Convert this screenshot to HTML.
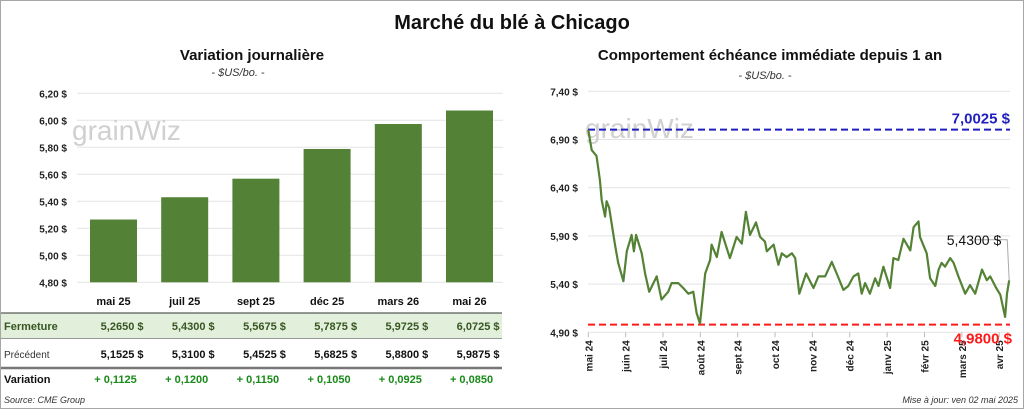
<!DOCTYPE html>
<html><head><meta charset="utf-8"><style>
body{margin:0;background:#fff;}
svg{display:block;font-family:"Liberation Sans",sans-serif;}
</style></head><body>
<svg id="c" width="1024" height="409" viewBox="0 0 1024 409" xmlns="http://www.w3.org/2000/svg">
<rect x="0.5" y="0.5" width="1023" height="408" fill="#fff" stroke="#a6a6a6"/>
<text x="512" y="29" text-anchor="middle" font-size="20" font-weight="bold" fill="#111">Marché du blé à Chicago</text>
<text x="252" y="60" text-anchor="middle" font-size="15" font-weight="bold" fill="#111">Variation journalière</text>
<text x="238" y="76" text-anchor="middle" font-size="11" font-style="italic" fill="#333">- $US/bo. -</text>
<text x="770" y="60" text-anchor="middle" font-size="15" font-weight="bold" fill="#111">Comportement échéance immédiate depuis 1 an</text>
<text x="765" y="79" text-anchor="middle" font-size="11" font-style="italic" fill="#333">- $US/bo. -</text>
<g id="left"></g>
<g id="right"></g>
<g id="table"></g>
<text x="4" y="403" font-size="9" font-style="italic" fill="#333">Source: CME Group</text>
<text x="1018" y="403" text-anchor="end" font-size="9" font-style="italic" fill="#333">Mise à jour: ven 02 mai 2025</text>
</svg>
<script>
const NS="http://www.w3.org/2000/svg";
const barCategories=["mai 25","juil 25","sept 25","déc 25","mars 26","mai 26"];
const barValues=[5.2650,5.4300,5.5675,5.7875,5.9725,6.0725];
const prevValues=[5.1525,5.3100,5.4525,5.6825,5.8800,5.9875];
const barTicks=[4.8,5.0,5.2,5.4,5.6,5.8,6.0,6.2];
const lineMonths=["mai 24","juin 24","juil 24","août 24","sept 24","oct 24","nov 24","déc 24","janv 25","févr 25","mars 25","avr 25"];
const lineT=[0,.09,.22,.31,.36,.45,.49,.56,.71,.80,.94,1.03,1.16,1.22,1.28,1.43,1.52,1.63,1.83,1.96,2.14,2.23,2.41,2.54,2.68,2.81,2.90,2.99,3.13,3.26,3.30,3.44,3.57,3.79,3.97,4.11,4.22,4.33,4.49,4.60,4.73,4.78,4.96,5.09,5.18,5.31,5.45,5.54,5.65,5.83,6.03,6.16,6.34,6.52,6.65,6.83,6.96,7.10,7.23,7.32,7.41,7.54,7.68,7.77,7.90,8.08,8.17,8.30,8.44,8.62,8.71,8.84,8.88,9.06,9.15,9.29,9.38,9.46,9.55,9.69,9.78,9.91,10.09,10.22,10.36,10.54,10.67,10.76,10.92,11.03,11.16,11.21,11.27];
const lineV=[7.00,6.79,6.73,6.48,6.27,6.10,6.26,6.19,5.82,5.62,5.43,5.74,5.91,5.74,5.91,5.72,5.51,5.32,5.48,5.24,5.32,5.41,5.41,5.36,5.30,5.32,5.10,4.99,5.51,5.65,5.81,5.68,5.94,5.67,5.89,5.82,6.15,5.91,6.04,5.89,5.84,5.74,5.81,5.60,5.72,5.68,5.72,5.67,5.30,5.51,5.36,5.48,5.48,5.63,5.51,5.34,5.38,5.48,5.51,5.30,5.41,5.30,5.46,5.38,5.58,5.36,5.67,5.65,5.87,5.75,5.99,6.05,5.89,5.72,5.46,5.38,5.55,5.62,5.58,5.67,5.62,5.48,5.30,5.39,5.30,5.55,5.44,5.48,5.36,5.29,5.06,5.30,5.44];
const lineTicks=[4.90,5.40,5.90,6.40,6.90,7.40];
const highVal=7.0025, lowVal=4.98, lastVal=5.43;

function el(tag,attrs,parent,txt){const e=document.createElementNS(NS,tag);for(const k in attrs)e.setAttribute(k,attrs[k]);if(txt!==undefined)e.textContent=txt;parent.appendChild(e);return e;}
const fmt=(v,d)=>v.toFixed(d).replace('.',',');

// left bar chart
const L=document.getElementById('left');
const ly=v=>282.3-(v-4.8)*135;
const lx=i=>113.5+i*71.2;
barTicks.forEach(t=>{
  const g=el('line',{x1:77,x2:503,y1:ly(t),y2:ly(t),stroke:'#e3e3e3','stroke-width':1},L);
  
  const tx=el('text',{x:67,y:ly(t)+4,'text-anchor':'end','font-size':10,'font-weight':'bold',fill:'#222'},L,fmt(t,2)+' $');
  
});
const wm1=el('text',{x:72,y:140,'font-size':28,fill:'#d0d0d0'},L,'grainWiz');

barValues.forEach((v,i)=>{
  const r=el('rect',{x:lx(i)-23.5,y:ly(v),width:47,height:ly(4.8)-ly(v),fill:'#538135'},L);
  
});

// table
const T=document.getElementById('table');
const b1=el('rect',{x:1,y:313,width:501,height:25,fill:'#e2efda'},T);

const l1=el('line',{x1:1,x2:502,y1:313,y2:313,stroke:'#333','stroke-width':1},T);

const l2=el('line',{x1:1,x2:502,y1:338.5,y2:338.5,stroke:'#999','stroke-width':1},T);

const l3=el('line',{x1:1,x2:502,y1:368,y2:368,stroke:'#777','stroke-width':2.5},T);

const rl=[['Fermeture',330,'#375623','bold',11],['Précédent',358,'#333','normal',10],['Variation',383,'#111','bold',11]];
rl.forEach(r=>{const t=el('text',{x:4,y:r[1],'font-size':r[4],'font-weight':r[3],fill:r[2]},T,r[0]);
  });
barCategories.forEach((c,i)=>{
  const h=el('text',{x:lx(i),y:305,'text-anchor':'middle','font-size':11,'font-weight':'bold',fill:'#111'},T,c);
  
  const a=el('text',{x:lx(i)+30,y:330,'text-anchor':'end','font-size':11,'font-weight':'bold',fill:'#375623','xml:space':'preserve'},T,fmt(barValues[i],4)+'  $');
  
  const b=el('text',{x:lx(i)+30,y:358,'text-anchor':'end','font-size':11,'font-weight':'bold',fill:'#111','xml:space':'preserve'},T,fmt(prevValues[i],4)+'  $');
  
  const d=el('text',{x:lx(i)+2,y:383,'text-anchor':'middle','font-size':11,'font-weight':'bold',fill:'#1a8a1a'},T,'+ '+fmt(barValues[i]-prevValues[i],4));
  
});

// right line chart
const R=document.getElementById('right');
const ry=v=>91.3-(v-7.4)*96.4;
const rx=m=>588.3+m*37.35;
lineTicks.forEach(t=>{
  const g=el('line',{x1:588,x2:1010,y1:ry(t),y2:ry(t),stroke:'#e3e3e3','stroke-width':1},R);
  
  const tx=el('text',{x:578,y:ry(t)+4,'text-anchor':'end','font-size':10,'font-weight':'bold',fill:'#222'},R,fmt(t,2)+' $');
  
});
const wm2=el('text',{x:585,y:138,'font-size':28,fill:'#d0d0d0'},R,'grainWiz');

lineMonths.forEach((m,i)=>{
  const tk=el('line',{x1:rx(i),x2:rx(i),y1:ry(4.9),y2:ry(4.9)+5,stroke:'#bbb'},R);
  
  const t=el('text',{x:rx(i)+4,y:ry(4.9)+8,'text-anchor':'end','font-size':10,'font-weight':'bold',fill:'#222',transform:`rotate(-90 ${rx(i)+4} ${ry(4.9)+8})`},R,m);
  
});
const hl=el('line',{x1:588,x2:1010,y1:ry(highVal),y2:ry(highVal),stroke:'#1f1fbf','stroke-width':2,'stroke-dasharray':'7,4'},R);

const ll=el('line',{x1:588,x2:1010,y1:ry(lowVal),y2:ry(lowVal),stroke:'#ff1a1a','stroke-width':2,'stroke-dasharray':'7,4'},R);

const ht=el('text',{x:1010,y:ry(highVal)-6,'text-anchor':'end','font-size':15,'font-weight':'bold',fill:'#1f1fbf'},R,fmt(highVal,4)+' $');

const lt=el('text',{x:1012,y:ry(lowVal)+19,'text-anchor':'end','font-size':15,'font-weight':'bold',fill:'#ff1a1a'},R,fmt(lowVal,4)+' $');

const pts=lineT.map((t,i)=>rx(t).toFixed(1)+','+ry(lineV[i]).toFixed(1)).join(' ');
const pl=el('polyline',{points:pts,fill:'none',stroke:'#548235','stroke-width':2.2,'stroke-linejoin':'round'},R);

const lastX=rx(lineT[lineT.length-1]);
const ld=el('polyline',{points:`${lastX-35},${ry(5.86)} ${lastX-2},${ry(5.86)} ${lastX},${ry(lastVal)}`,fill:'none',stroke:'#aaa','stroke-width':1},R);

const lv=el('text',{x:lastX-8,y:ry(5.86)+5,'text-anchor':'end','font-size':14,fill:'#111'},R,fmt(lastVal,4)+' $');

</script>
</body></html>
